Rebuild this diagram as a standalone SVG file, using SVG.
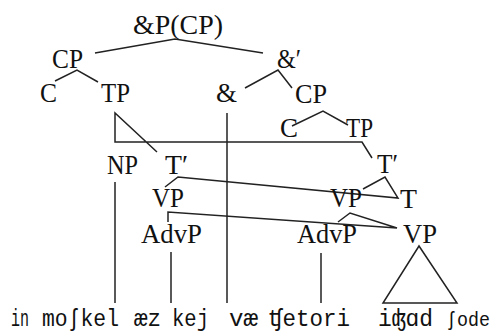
<svg xmlns="http://www.w3.org/2000/svg" width="497" height="335" viewBox="0 0 497 335">
<style>
.lbl{font-family:'Liberation Serif','DejaVu Serif','Times New Roman',serif;font-size:28px;fill:#111}
.w{font-family:'Liberation Mono','DejaVu Sans Mono',monospace;font-size:23px;fill:#111}
.c{fill:none;stroke:#222;stroke-width:1.5;stroke-linejoin:miter}
</style>
<rect width="497" height="335" fill="#fff"/>
<g id="connectors" class="c">
<polyline points="95,53 175,39 263,53"/>
<polyline points="55,81 77,70 98,82"/>
<polyline points="245,88 278,70 292,88"/>
<polyline points="292,126 323,111 348,125"/>
<polyline points="157,152 115,113 115,142 362,142 372,158"/>
<line x1="227" y1="113" x2="227" y2="303"/>
<line x1="115" y1="182" x2="115" y2="303"/>
<polyline points="165,187 178,177 398,198 385,177 363,189"/>
<polyline points="168,222 168,212 397,228 350,213 338,222"/>
<line x1="171" y1="252" x2="171" y2="303"/>
<line x1="321" y1="253" x2="321" y2="303"/>
<polygon points="419,246 383,303 457,303"/>
</g>
<g id="n-andP"><text class="lbl" x="133" y="34" textLength="90" lengthAdjust="spacingAndGlyphs">&amp;P(CP)</text></g>
<g id="n-CP1"><text class="lbl" x="52" y="68" textLength="31" lengthAdjust="spacingAndGlyphs">CP</text></g>
<g id="n-C1"><text class="lbl" x="40" y="102" textLength="17" lengthAdjust="spacingAndGlyphs">C</text></g>
<g id="n-TP1"><text class="lbl" x="101" y="102" textLength="29" lengthAdjust="spacingAndGlyphs">TP</text></g>
<g id="n-and"><text class="lbl" x="216" y="102" textLength="21" lengthAdjust="spacingAndGlyphs">&amp;</text></g>
<g id="n-andbar"><text class="lbl" x="277" y="68" textLength="24" lengthAdjust="spacingAndGlyphs">&amp;′</text></g>
<g id="n-CP2"><text class="lbl" x="295" y="103" textLength="32" lengthAdjust="spacingAndGlyphs">CP</text></g>
<g id="n-C2"><text class="lbl" x="280" y="137" textLength="18" lengthAdjust="spacingAndGlyphs">C</text></g>
<g id="n-TP2"><text class="lbl" x="346" y="137" textLength="27" lengthAdjust="spacingAndGlyphs">TP</text></g>
<g id="n-NP"><text class="lbl" x="107" y="174" textLength="31" lengthAdjust="spacingAndGlyphs">NP</text></g>
<g id="n-Tbar1"><text class="lbl" x="165" y="174" textLength="23" lengthAdjust="spacingAndGlyphs">T′</text></g>
<g id="n-Tbar2"><text class="lbl" x="377" y="173" textLength="21" lengthAdjust="spacingAndGlyphs">T′</text></g>
<g id="n-VP1"><text class="lbl" x="152" y="207" textLength="32" lengthAdjust="spacingAndGlyphs">VP</text></g>
<g id="n-T"><text class="lbl" x="400" y="208" textLength="17" lengthAdjust="spacingAndGlyphs">T</text></g>
<g id="n-VP2"><text class="lbl" x="330" y="207" textLength="32" lengthAdjust="spacingAndGlyphs">VP</text></g>
<g id="n-AdvP1"><text class="lbl" x="141" y="243" textLength="61" lengthAdjust="spacingAndGlyphs">AdvP</text></g>
<g id="n-AdvP2"><text class="lbl" x="297" y="243" textLength="60" lengthAdjust="spacingAndGlyphs">AdvP</text></g>
<g id="n-VP3"><text class="lbl" x="403" y="243" textLength="34" lengthAdjust="spacingAndGlyphs">VP</text></g>
<g id="words">
<text class="w" x="11" y="326" textLength="18" lengthAdjust="spacingAndGlyphs">in</text>
<text class="w" x="42" y="326" textLength="77" lengthAdjust="spacingAndGlyphs">moʃkel</text>
<text class="w" x="134" y="326" textLength="27" lengthAdjust="spacingAndGlyphs">æz</text>
<text class="w" x="172" y="326" textLength="37" lengthAdjust="spacingAndGlyphs">kej</text>
<text class="w" x="229" y="326" textLength="29" lengthAdjust="spacingAndGlyphs">væ</text>
<text class="w" x="269" y="326" textLength="81" lengthAdjust="spacingAndGlyphs">ʧetori</text>
<text class="w" x="378" y="326" textLength="55" lengthAdjust="spacingAndGlyphs">iʤɑd</text>
<text class="w" x="446" y="326" style="font-size:21px" textLength="44" lengthAdjust="spacingAndGlyphs">ʃode</text>
</g>
</svg>
